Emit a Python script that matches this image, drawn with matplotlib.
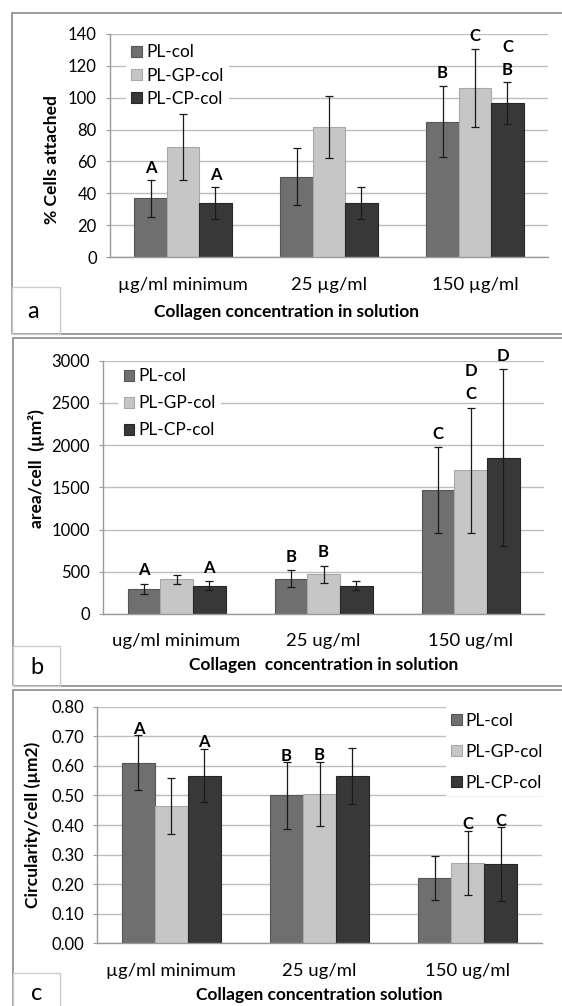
import numpy as np
import matplotlib.pyplot as plt
from matplotlib.patches import Patch, Rectangle

plt.rcParams['font.family'] = ['Lato', 'DejaVu Sans']

W, H = 562, 1006

# series shared by all three panels
series = ['PL-col', 'PL-GP-col', 'PL-CP-col']
colors = ['#6f6f6f', '#c6c6c6', '#383838']
edges = ['#555555', '#a8a8a8', '#262626']

# panel a - % cells attached (rows = series, cols = categories)
a_cats = ['µg/ml minimum', '25 µg/ml', '150 µg/ml']
a_vals = [[37, 50.5, 85], [69, 81.5, 106], [34, 34, 96.5]]
a_err = [[11.5, 18, 22.5], [20.5, 19.5, 24.7], [10, 10, 13]]
a_letters = [['A', '', 'B'], ['', '', 'C'], ['A', '', 'C\nB']]

# panel b - area per cell
b_cats = ['ug/ml minimum', '25 ug/ml', '150 ug/ml']
b_vals = [[300, 420, 1470], [410, 470, 1700], [335, 335, 1850]]
b_err = [[60, 100, 505], [50, 100, 740], [55, 55, 1050]]
b_letters = [['A', 'B', 'C'], ['', 'B', 'D\nC'], ['A', '', 'D']]

# panel c - circularity per cell
c_cats = ['µg/ml minimum', '25 ug/ml', '150 ug/ml']
c_vals = [[0.61, 0.50, 0.22], [0.465, 0.505, 0.273], [0.567, 0.567, 0.267]]
c_err = [[0.093, 0.112, 0.075], [0.094, 0.109, 0.108], [0.09, 0.095, 0.125]]
c_letters = [['A', 'B', ''], ['', 'B', 'C'], ['A', '', 'C']]

FS = 12


def px_box(l, t, r, b):
    return [l / W, 1 - b / H, (r - l) / W, (b - t) / H]


def draw_panel(ax, cats, vals, errs, letters, ymax, step, fmt, ylabel, xlabel,
               letter_off, ylab_xy, xlab_xy):
    x = np.arange(len(cats))
    w = 1 / 4.5
    for i, name in enumerate(series):
        xs = x + (i - 1) * w
        ax.bar(xs, vals[i], w, color=colors[i], edgecolor=edges[i], linewidth=0.8,
               label=name, zorder=2)
        ax.errorbar(xs, vals[i], yerr=errs[i], fmt='none', ecolor='#1a1a1a',
                    elinewidth=0.9, capsize=2.6, capthick=0.9, zorder=6)
        for j in range(len(cats)):
            if letters[i][j]:
                ax.annotate(letters[i][j], (xs[j], vals[i][j] + errs[i][j]),
                            xytext=(0, letter_off), textcoords='offset points',
                            ha='center', va='bottom', fontsize=FS, fontweight='bold',
                            linespacing=1.55, zorder=6)
    ax.set_xlim(-0.5, len(cats) - 0.5)
    ax.set_ylim(0, ymax)
    ticks = np.arange(0, ymax + step / 2, step)
    ax.set_yticks(ticks)
    ax.set_yticklabels([fmt.format(t) for t in ticks])
    ax.set_xticks(x)
    ax.set_xticklabels(cats)
    ax.yaxis.grid(True, color='#bdbdbd', linewidth=1.0, zorder=0)
    ax.set_axisbelow(True)
    for s in ['top', 'right']:
        ax.spines[s].set_visible(False)
    for s in ['left', 'bottom']:
        ax.spines[s].set_color('#9a9a9a')
        ax.spines[s].set_linewidth(1.0)
    ax.tick_params(axis='y', length=3, color='#9a9a9a', labelsize=FS, pad=6.5)
    ax.tick_params(axis='x', length=0, labelsize=13.3, pad=14)
    ax.set_ylabel(ylabel, fontsize=12.6, fontweight='bold', va='center')
    ax.yaxis.set_label_coords(*ylab_xy)
    ax.set_xlabel(xlabel, fontsize=12.5, fontweight='bold', va='center')
    ax.xaxis.set_label_coords(*xlab_xy)


def add_legend(ax, loc, anchor, spacing):
    handles = [Patch(facecolor=c, edgecolor=e, linewidth=0.8) for c, e in zip(colors, edges)]
    leg = ax.legend(handles, series, loc=loc, bbox_to_anchor=anchor, fontsize=12.4,
                    frameon=True, fancybox=False, framealpha=1, borderaxespad=0,
                    handlelength=0.6, handleheight=0.6, handletextpad=0.25,
                    labelspacing=spacing, borderpad=0.3)
    leg.get_frame().set_edgecolor('none')
    leg.get_frame().set_facecolor('white')
    leg.set_zorder(5)


fig = plt.figure(figsize=(W / 100, H / 100), dpi=100)

# outer panel frames and letter boxes
for l, t, r, b in [(12, 13, 575, 334), (13, 338, 575, 686), (13, 690, 575, 1020)]:
    fig.patches.append(Rectangle((l / W, 1 - b / H), (r - l) / W, (b - t) / H,
                                 transform=fig.transFigure, fill=False,
                                 edgecolor='#8a8a8a', linewidth=1.2))
for (l, t, r, b), lab, (tx, ty) in [((12, 287, 60, 334), 'a', (33, 311)),
                                     ((13, 646, 60, 686), 'b', (37, 668)),
                                     ((13, 973, 60, 1020), 'c', (37, 993))]:
    fig.patches.append(Rectangle((l / W, 1 - b / H), (r - l) / W, (b - t) / H,
                                 transform=fig.transFigure, fill=False,
                                 edgecolor='#cccccc', linewidth=1.0))
    fig.text(tx / W, 1 - ty / H, lab, fontsize=17, ha='center', va='center')

ax_a = fig.add_axes(px_box(110, 33.7, 548, 257.3))
draw_panel(ax_a, a_cats, a_vals, a_err, a_letters, 140, 20, '{:.0f}',
           '% Cells attached', 'Collagen concentration in solution',
           3.0, (-0.132, 0.437), (0.402, -0.245))
add_legend(ax_a, 'upper left', (0.037, 0.975), 0.42)

ax_b = fig.add_axes(px_box(103, 360.7, 544, 614))
draw_panel(ax_b, b_cats, b_vals, b_err, b_letters, 3000, 500, '{:.0f}',
           'area/cell  (µm²)', 'Collagen  concentration in solution',
           4.0, (-0.15, 0.576), (0.5, -0.2))
add_legend(ax_b, 'upper left', (0.035, 0.99), 0.64)

ax_c = fig.add_axes(px_box(97.3, 706.7, 541.7, 943.3))
draw_panel(ax_c, c_cats, c_vals, c_err, c_letters, 0.8, 0.1, '{:.2f}',
           'Circularity/cell (µm2)', 'Collagen concentration solution',
           -1.0, (-0.145, 0.5), (0.5, -0.22))
add_legend(ax_c, 'upper right', (1.015, 0.997), 0.88)

fig.savefig('out.png', dpi=100)
